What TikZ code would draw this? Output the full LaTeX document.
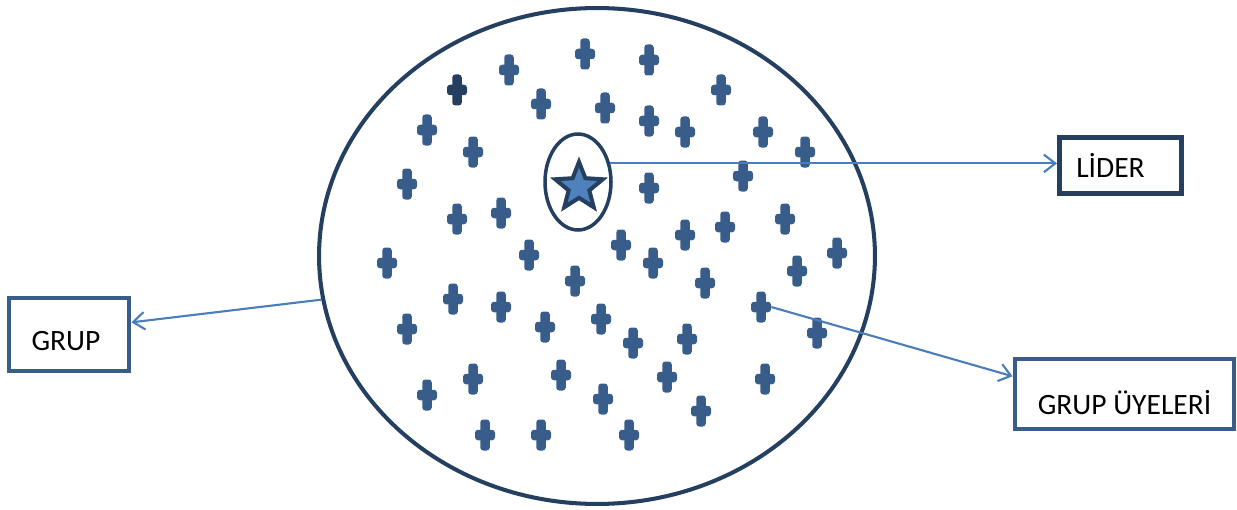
\documentclass[tikz,border=0pt]{standalone}
\usepackage{fontspec}
\setmainfont{Carlito}
\usetikzlibrary{arrows.meta,positioning,calc,shapes.geometric}
\definecolor{navy}{HTML}{243F60}
\definecolor{steel}{HTML}{385D8A}
\definecolor{accent}{HTML}{4F81BD}
\definecolor{conn}{HTML}{4A7EBB}

\begin{document}
\begin{tikzpicture}[x=0.02cm,y=-0.02cm,
  member/.style={rectangle,inner sep=0pt,minimum width=0.4cm,minimum height=0.62cm,
    path picture={
      \fill[#1,rounded corners=0.06cm] ([shift={(-4.75,-15.5)}]path picture bounding box.center)
        rectangle ([shift={(4.75,15.5)}]path picture bounding box.center);
      \fill[#1,rounded corners=0.06cm] ([shift={(-10,-5.25)}]path picture bounding box.center)
        rectangle ([shift={(10,5.25)}]path picture bounding box.center);}},
  member/.default=steel,
  txt/.style={font=\fontsize{16.8}{20}\selectfont,inner sep=0pt},
  tbox/.style={rectangle,draw=#1,line width=2.8pt,inner sep=0pt},
  tbox/.default=steel,
  arr/.style={-{Straight Barb[length=6.5pt,width=10pt]},conn,line width=1.2pt}]
  \useasboundingbox (0,0) rectangle (1237,510);
  \node[ellipse,draw=navy,line width=2.3pt,inner sep=0pt,minimum width=11.12cm,minimum height=9.92cm] (grp) at (597,256) {};
  \foreach \x/\y [count=\i] in {585/54,649/60,509/70,721/90,541/104,605/108,649/121,427/130,
      685/132,763/132,473/152,805/152,407/184,649/188,743/176,457/219,501/213,387/263,
      529/255,621/245,653/263,685/235,725/227,785/219,837/253,797/271,575/281,705/283,
      453/299,501/307,761/307,407/329,545/327,601/319,633/343,687/339,817/333,427/395,
      473/379,561/375,603/399,667/377,765/379,701/411,485/435,541/435,629/435}
    \node[member] (m\i) at (\x,\y) {};
  \node[member=navy] (m0) at (457,90) {};
  \node[ellipse,draw=navy,line width=2pt,inner sep=0pt,minimum width=1.32cm,minimum height=1.92cm] (lead) at (578,182) {};
  \node[star,star points=5,star point ratio=2.3,draw=navy,fill=accent,line width=2.3pt,inner sep=0pt,minimum size=1cm] (ldr) at (579,187) {};
  \node[tbox=navy,minimum width=2.44cm,minimum height=1.12cm,label={[txt,xshift=-0.2cm]center:LİDER}] (lider) at (1120.5,165.5) {};
  \node[tbox,minimum width=2.4cm,minimum height=1.46cm,label={[txt,xshift=-0.06cm,yshift=-0.13cm]center:GRUP}] (grup) at (69,334.5) {};
  \node[tbox,minimum width=4.38cm,minimum height=1.4cm,label={[txt,yshift=-0.18cm]center:GRUP ÜYELERİ}] (uye) at (1124.5,394) {};
  \draw[arr] (lead.30) -- (lead.30 -| lider.west);
  \draw[arr] (grp.189) -- (grup.11);
  \draw[arr] (m31.east) -- (uye.171);
\end{tikzpicture}
\end{document}
